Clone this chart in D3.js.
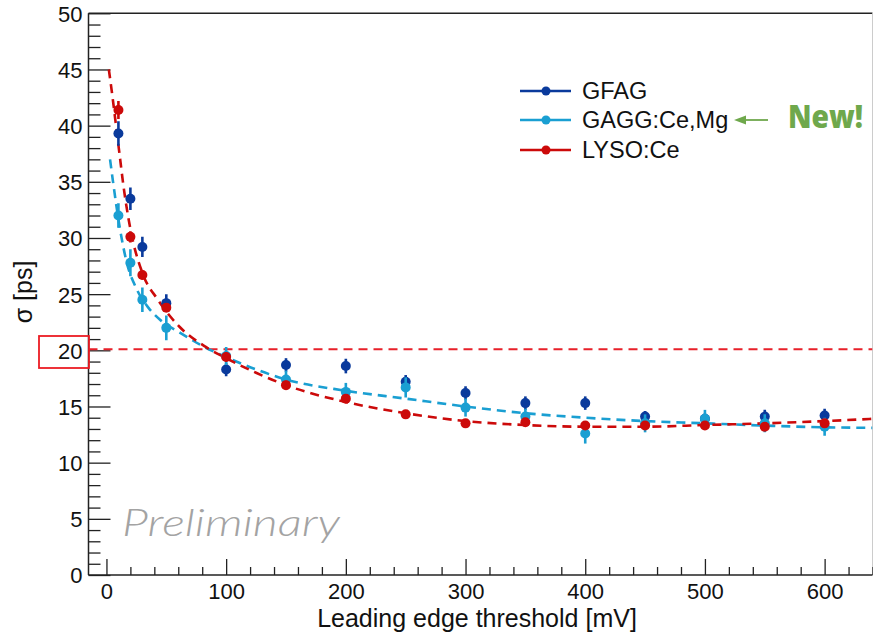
<!DOCTYPE html>
<html><head><meta charset="utf-8">
<script src="https://cdn.jsdelivr.net/npm/d3@7"></script>
<style>body{margin:0;background:#fff}svg{display:block}</style>
</head><body>
<svg id="c" width="873" height="633"></svg>
<script>
const thresholds = [10,20,30,50,100,150,200,250,300,350,400,450,500,550,600];
const gfag     = [39.3,33.5,29.2,24.2,18.3,18.7,18.6,17.2,16.2,15.3,15.3,14.1,13.9,14.1,14.2];
const gfagErr  = [1.1,1.0,0.9,0.8,0.6,0.6,0.65,0.6,0.6,0.6,0.6,0.5,0.5,0.6,0.6];
const gagg     = [32.0,27.8,24.5,22.0,19.5,17.4,16.3,16.7,14.9,14.1,12.6,13.5,13.9,13.5,13.2];
const gaggErr  = [1.1,1.2,1.1,1.1,0.8,0.8,0.8,0.9,0.8,0.7,0.9,0.8,0.8,0.8,0.8];
const lyso     = [41.4,30.1,26.7,23.8,19.4,16.9,15.7,14.3,13.5,13.6,13.3,13.3,13.3,13.2,13.5];
const lysoErr  = [0.8,0.5,0.4,0.4,0.4,0.4,0.4,0.3,0.3,0.3,0.3,0.3,0.3,0.3,0.3];
// dashed fit curves
const lysoFitX = [2,5,8,11,14,20,30,43,61,83,100,125,150,200,250,300,350,400,450,500,550,600,640];
const lysoFitY = [45,42.6,40.0,37.4,34.8,30.8,26.9,24.5,22.1,20.3,19.3,18.0,16.9,15.4,14.4,13.7,13.35,13.2,13.2,13.35,13.5,13.7,13.9];
const gaggFitX = [3,5.5,11,17,25,35,45,61,80,100,125,150,200,250,300,350,400,450,500,550,600,640];
const gaggFitY = [37.0,35.0,31.0,27.8,25.5,23.8,22.7,21.6,20.4,19.4,18.3,17.4,16.4,15.7,15.0,14.4,14.0,13.7,13.5,13.3,13.15,13.1];
const refLine = 20.1;
const xTicks = [0,100,200,300,400,500,600];
const yTicks = [0,5,10,15,20,25,30,35,40,45,50];
const seriesNames = ["GFAG","GAGG:Ce,Mg","LYSO:Ce"];

const colors = {gfag:"#0a3a9c", gagg:"#1a9fd2", lyso:"#cc0a0a"};
const svg = d3.select("#c");
const L=88.5, R=872.5, T=13.3, B=575;
const x = d3.scaleLinear().domain([-15,640]).range([L,R]);
const y = d3.scaleLinear().domain([0,50]).range([B,T]);
const font = "'Liberation Sans', Arial, Helvetica, sans-serif";

// frame
svg.append("line").attr("x1",L).attr("x2",R).attr("y1",T).attr("y2",T).attr("stroke","#222").attr("stroke-width",1.5);
svg.append("line").attr("x1",R).attr("x2",R).attr("y1",T).attr("y2",B).attr("stroke","#ccc").attr("stroke-width",1);

// y axis
const yAx = svg.append("g").attr("transform",`translate(${L},0)`)
  .call(d3.axisRight(y).tickValues(d3.range(0,51,1)).tickSize(0).tickFormat(""));
yAx.select(".domain").remove();
yAx.selectAll(".tick line").attr("x2",d=>d%5===0?22:12).attr("stroke","#222").attr("stroke-width",1.3);
svg.append("line").attr("x1",L).attr("x2",L).attr("y1",T).attr("y2",B).attr("stroke","#222").attr("stroke-width",1.5);
const yLab = svg.append("g").attr("transform",`translate(${L},0)`)
  .call(d3.axisLeft(y).tickValues(yTicks).tickSize(0).tickPadding(6));
yLab.select(".domain").remove();
yLab.selectAll("text").attr("font-family",font).attr("font-size",22).attr("fill","#111").attr("dy","0.36em");

// x axis
const minorX = d3.range(0,641,20);
const xAx = svg.append("g").attr("transform",`translate(0,${B})`)
  .call(d3.axisTop(x).tickValues(minorX).tickSize(0).tickFormat(""));
xAx.select(".domain").remove();
xAx.selectAll(".tick line").attr("y2",d=>d%100===0?-16:-8).attr("stroke","#222").attr("stroke-width",1.3);
svg.append("line").attr("x1",L).attr("x2",R).attr("y1",B).attr("y2",B).attr("stroke","#222").attr("stroke-width",1.5);
const xLab = svg.append("g").attr("transform",`translate(0,${B})`)
  .call(d3.axisBottom(x).tickValues(xTicks).tickSize(0).tickPadding(8));
xLab.select(".domain").remove();
xLab.selectAll("text").attr("font-family",font).attr("font-size",22).attr("fill","#111").attr("dy","0.71em");

// axis titles
svg.append("text").attr("x",477).attr("y",627).attr("text-anchor","middle")
  .attr("font-family",font).attr("font-size",25).attr("fill","#111").text("Leading edge threshold [mV]");
svg.append("text").attr("transform","translate(32,292) rotate(-90)").attr("text-anchor","middle")
  .attr("font-family",font).attr("font-size",25).attr("fill","#111").text("σ [ps]");

// red box around 20
svg.append("rect").attr("x",39).attr("y",336).attr("width",50).attr("height",32)
  .attr("fill","none").attr("stroke","#ec1c24").attr("stroke-width",1.8);

// Preliminary
svg.append("text").attr("x",122).attr("y",536).attr("font-family","Lato, 'Open Sans', sans-serif")
  .attr("font-style","italic").attr("font-weight",300).attr("font-size",38).attr("fill","#a3a3a3")
  .attr("textLength",218).attr("lengthAdjust","spacingAndGlyphs").text("Preliminary");

const clip = svg.append("clipPath").attr("id","pc").append("rect").attr("x",L).attr("y",T).attr("width",R-L).attr("height",B-T);
const plot = svg.append("g").attr("clip-path","url(#pc)");

// reference line
plot.append("line").attr("x1",L).attr("x2",R).attr("y1",y(refLine)).attr("y2",y(refLine))
  .attr("stroke","#e8202a").attr("stroke-width",2).attr("stroke-dasharray","9,6");

// fits
const line = d3.line().x(d=>x(d[0])).y(d=>y(d[1])).curve(d3.curveMonotoneX);
plot.append("path").attr("d",line(gaggFitX.map((v,i)=>[v,gaggFitY[i]])))
  .attr("fill","none").attr("stroke",colors.gagg).attr("stroke-width",2.6).attr("stroke-dasharray","9,6");
plot.append("path").attr("d",line(lysoFitX.map((v,i)=>[v,lysoFitY[i]])))
  .attr("fill","none").attr("stroke",colors.lyso).attr("stroke-width",2.6).attr("stroke-dasharray","9,6");

// data points
function drawSeries(vals, errs, col){
  const g = plot.append("g");
  thresholds.forEach((t,i)=>{
    g.append("line").attr("x1",x(t)).attr("x2",x(t)).attr("y1",y(vals[i]-errs[i])).attr("y2",y(vals[i]+errs[i]))
      .attr("stroke",col).attr("stroke-width",2.6);
    g.append("circle").attr("cx",x(t)).attr("cy",y(vals[i])).attr("r",5).attr("fill",col);
  });
}
drawSeries(gfag,gfagErr,colors.gfag);
drawSeries(gagg,gaggErr,colors.gagg);
drawSeries(lyso,lysoErr,colors.lyso);

// legend
const legCols=[colors.gfag,colors.gagg,colors.lyso];
const legY=[91,120,150];
seriesNames.forEach((n,i)=>{
  svg.append("line").attr("x1",520).attr("x2",571).attr("y1",legY[i]).attr("y2",legY[i]).attr("stroke",legCols[i]).attr("stroke-width",2.6);
  svg.append("circle").attr("cx",546).attr("cy",legY[i]).attr("r",4.5).attr("fill",legCols[i]);
  svg.append("text").attr("x",582).attr("y",legY[i]).attr("dy","0.36em").attr("font-family",font)
    .attr("font-size",23.5).attr("fill","#111").text(n);
});
// New! arrow
const green="#6fa84c";
svg.append("line").attr("x1",744).attr("x2",768).attr("y1",120).attr("y2",120).attr("stroke",green).attr("stroke-width",1.8);
svg.append("path").attr("d","M734,120 L746,115.5 L746,124.5 Z").attr("fill",green);
svg.append("text").attr("x",788).attr("y",128).attr("font-family","'Open Sans', Lato, sans-serif")
  .attr("font-weight",800).attr("font-size",31).attr("fill",green)
  .attr("textLength",75).attr("lengthAdjust","spacingAndGlyphs").text("New!");
</script>
</body></html>
